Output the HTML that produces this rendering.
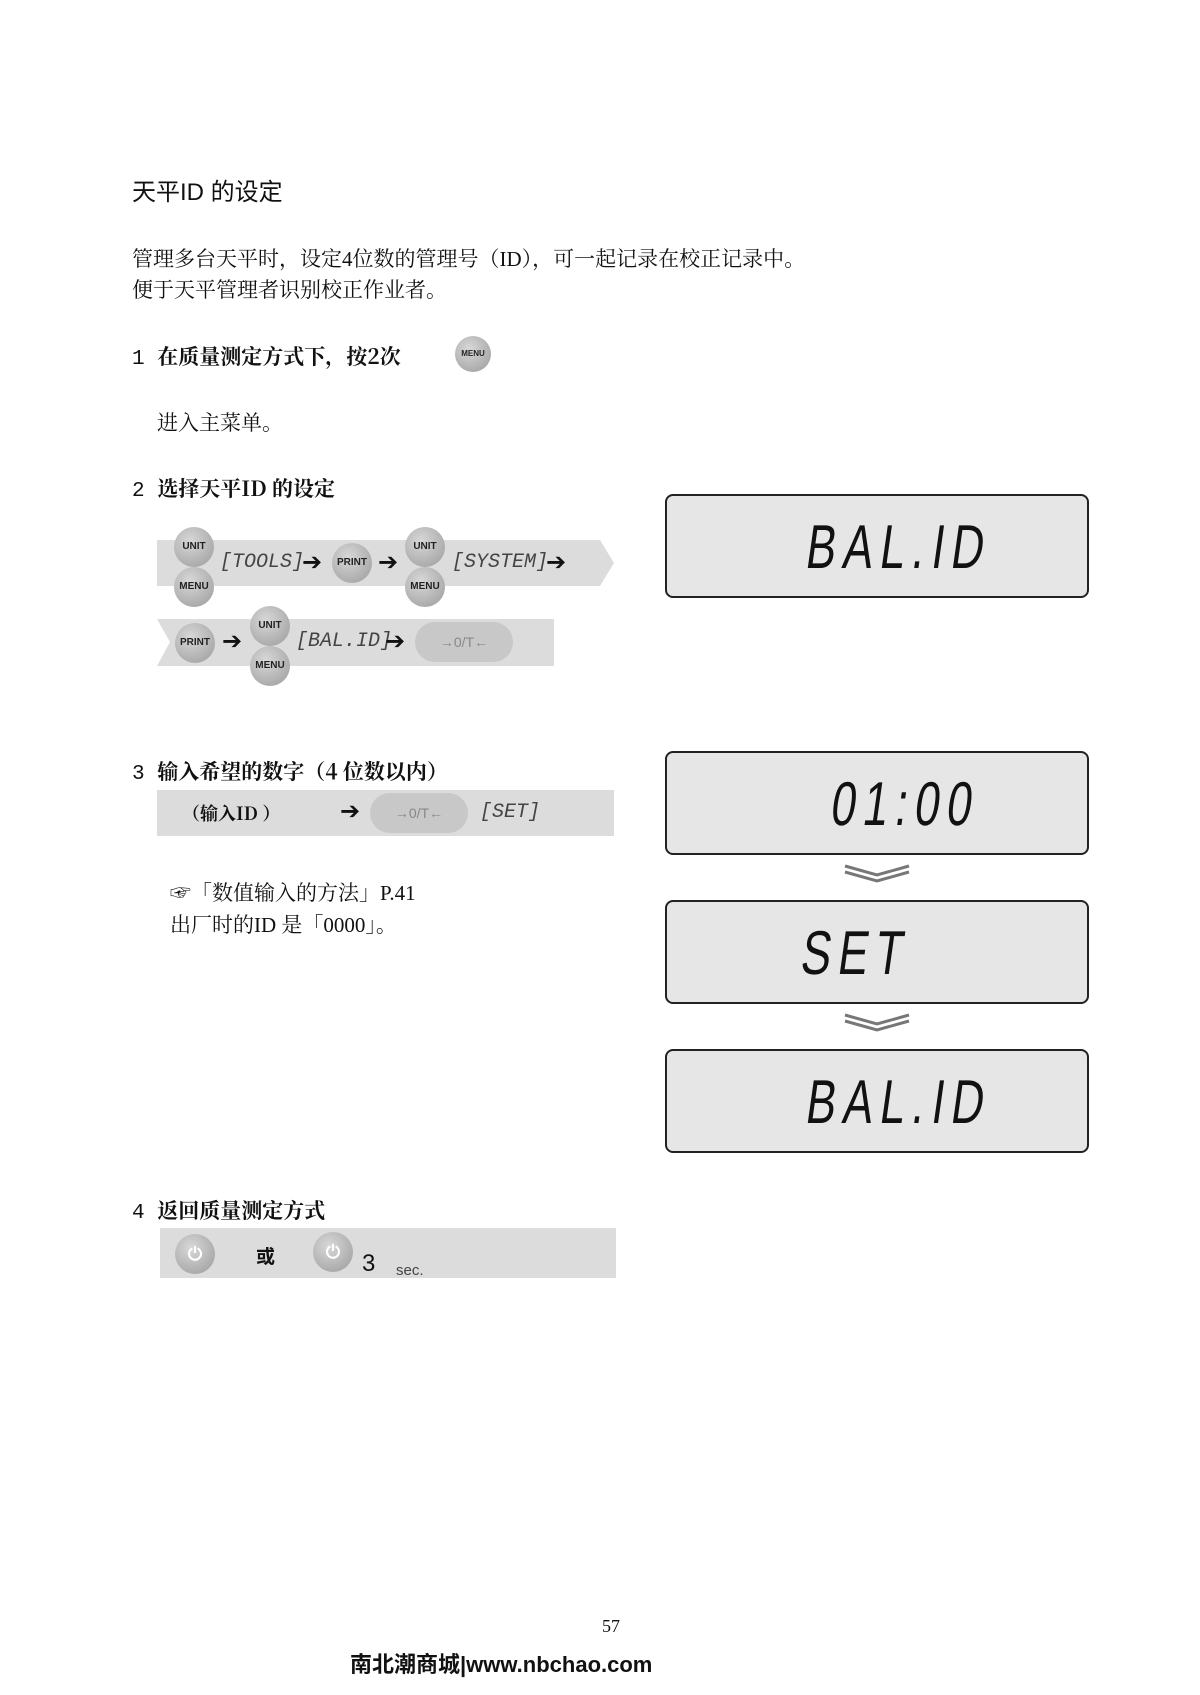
<!DOCTYPE html>
<html><head><meta charset="utf-8"><style>
body{margin:0;width:1200px;height:1695px;background:#fff;position:relative;overflow:hidden;font-family:"Liberation Serif","Noto Serif CJK SC",serif;color:#111}
.a{position:absolute;white-space:nowrap}
.s{font-family:"Liberation Sans","Noto Sans CJK SC",sans-serif}
.m{font-family:"Liberation Mono","Noto Serif CJK SC",monospace}
.h{font-family:"Noto Serif CJK SC",serif;font-weight:bold}
.lcd{position:absolute;left:665px;width:424px;height:104px;background:#e6e6e6;border:2px solid #222;border-radius:8px;box-sizing:border-box}
.seg{position:absolute;font-family:"Liberation Sans Narrow","Liberation Sans",sans-serif;font-size:62px;transform:skewX(-8deg) scaleX(0.72);transform-origin:left top;letter-spacing:10px;font-weight:300}
.btn{position:absolute;width:40px;height:40px;border-radius:50%;background:radial-gradient(circle at 40% 35%,#d8d8d8,#9a9a9a);font-family:"Liberation Sans",sans-serif;font-size:10px;font-weight:bold;text-align:center;line-height:40px;color:#222}
.arr{position:absolute;font-size:24px;font-weight:bold;font-family:"DejaVu Sans",sans-serif}
.lt{position:absolute;font-family:"Liberation Mono",monospace;font-size:20px;color:#444;font-style:italic}
</style></head><body>
<div class="a s" style="left:132px;top:172px;font-size:24px">天平ID 的设定</div>
<div class="a" style="left:132px;top:243px;font-size:21px">管理多台天平时，设定4位数的管理号（ID），可一起记录在校正记录中。</div>
<div class="a" style="left:132px;top:274px;font-size:21px">便于天平管理者识别校正作业者。</div>
<div class="a m" style="left:132px;top:341px;font-size:21px">1 <span class="h">在质量测定方式下，按2次</span></div>
<div class="btn" style="left:455px;top:336px;width:36px;height:36px;line-height:36px;font-size:8px">MENU</div>
<div class="a" style="left:157px;top:407px;font-size:21px">进入主菜单。</div>
<div class="a m" style="left:132px;top:473px;font-size:21px">2 <span class="h">选择天平ID 的设定</span></div>

<svg class="a" style="left:0;top:0" width="1200" height="1695">
<polygon points="157,540 600,540 614,563 600,586 157,586" fill="#dcdcdc"/>
<polygon points="157,619 554,619 554,666 157,666 170,642" fill="#dcdcdc"/>
<rect x="157" y="790" width="457" height="46" fill="#dcdcdc"/>
<rect x="160" y="1228" width="456" height="50" fill="#dcdcdc"/>
<polyline points="845,866 877,875 909,866" fill="none" stroke="#777" stroke-width="3"/>
<polyline points="845,872 877,881 909,872" fill="none" stroke="#777" stroke-width="3"/>
<polyline points="845,1015 877,1024 909,1015" fill="none" stroke="#777" stroke-width="3"/>
<polyline points="845,1021 877,1030 909,1021" fill="none" stroke="#777" stroke-width="3"/>
</svg>
<div class="btn" style="left:174px;top:527px">UNIT</div>
<div class="btn" style="left:174px;top:567px">MENU</div>
<div class="lt" style="left:220px;top:551px">[TOOLS]</div>
<div class="arr" style="left:302px;top:548px">➔</div>
<div class="btn" style="left:332px;top:543px">PRINT</div>
<div class="arr" style="left:378px;top:548px">➔</div>
<div class="btn" style="left:405px;top:527px">UNIT</div>
<div class="btn" style="left:405px;top:567px">MENU</div>
<div class="lt" style="left:452px;top:551px">[SYSTEM]</div>
<div class="arr" style="left:546px;top:548px">➔</div>
<div class="btn" style="left:175px;top:623px">PRINT</div>
<div class="arr" style="left:222px;top:627px">➔</div>
<div class="btn" style="left:250px;top:606px">UNIT</div>
<div class="btn" style="left:250px;top:646px">MENU</div>
<div class="lt" style="left:296px;top:630px">[BAL.ID]</div>
<div class="arr" style="left:385px;top:627px">➔</div>
<div class="a s" style="left:415px;top:622px;width:98px;height:40px;border-radius:20px;background:#c8c8c8;color:#888;font-size:14px;text-align:center;line-height:40px">→0/T←</div>

<div class="lcd" style="top:494px"><div class="seg" style="left:145px;top:16px">BAL.ID</div></div>

<div class="a m" style="left:132px;top:756px;font-size:21px">3 <span class="h">输入希望的数字（4 位数以内）</span></div>
<div class="a h" style="left:182px;top:800px;font-size:18px">（输入ID ）</div>
<div class="arr" style="left:340px;top:797px">➔</div>
<div class="a s" style="left:370px;top:793px;width:98px;height:40px;border-radius:20px;background:#c8c8c8;color:#888;font-size:14px;text-align:center;line-height:40px">→0/T←</div>
<div class="lt" style="left:480px;top:801px">[SET]</div>
<div class="lcd" style="top:751px"><div class="seg" style="left:170px;top:16px">01:00</div></div>
<div class="a" style="left:170px;top:877px;font-size:21px">☞「数值输入的方法」P.41</div>
<div class="a" style="left:170px;top:909px;font-size:21px">出厂时的ID 是「0000」。</div>
<div class="lcd" style="top:900px"><div class="seg" style="left:140px;top:16px">SET</div></div>
<div class="lcd" style="top:1049px"><div class="seg" style="left:145px;top:16px">BAL.ID</div></div>

<div class="a m" style="left:132px;top:1195px;font-size:21px">4 <span class="h">返回质量测定方式</span></div>
<div class="btn" style="left:175px;top:1234px;font-size:18px;color:#fff">⏻</div>
<div class="a s" style="left:256px;top:1242px;font-size:19px;font-weight:bold">或</div>
<div class="btn" style="left:313px;top:1232px;font-size:18px;color:#fff">⏻</div>
<div class="a s" style="left:362px;top:1250px;font-size:24px">3</div>
<div class="a s" style="left:396px;top:1262px;font-size:15px;color:#444">sec.</div>

<div class="a" style="left:602px;top:1616px;font-size:18px">57</div>
<div class="a s" style="left:350px;top:1647px;font-size:22px;font-weight:bold">南北潮商城|www.nbchao.com</div>
</body></html>
